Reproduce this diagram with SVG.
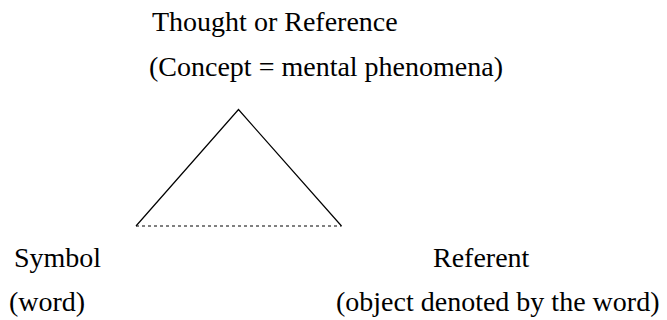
<svg xmlns="http://www.w3.org/2000/svg" width="667" height="320" viewBox="0 0 667 320">
<style>
  text { font-family: "Liberation Serif", "Times New Roman", serif; font-size: 28px; fill: #000; }
  .side { stroke: #000; stroke-width: 1.2; fill: none; }
  .base { stroke: #000; stroke-width: 1; stroke-dasharray: 3 3; fill: none; }
</style>
<rect width="667" height="320" fill="#fff"/>
<g id="thought">
  <text x="152" y="31">Thought or Reference</text>
  <text x="149" y="76">(Concept = mental phenomena)</text>
</g>
<g id="symbol">
  <text x="14" y="267">Symbol</text>
  <text x="9" y="311">(word)</text>
</g>
<g id="referent">
  <text x="433" y="267">Referent</text>
  <text x="336" y="311">(object denoted by the word)</text>
</g>
<g id="connectors">
  <polyline class="side" points="136,226 238.5,109.5 341.5,226"/>
  <line class="base" x1="136" y1="226" x2="341.5" y2="226"/>
</g>
</svg>
